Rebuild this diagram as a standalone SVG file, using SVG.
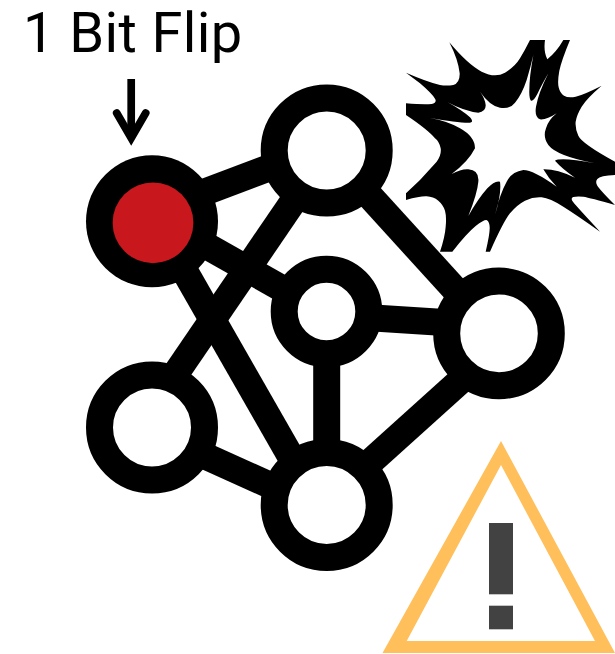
<svg xmlns="http://www.w3.org/2000/svg" width="615" height="654" viewBox="0 0 615 654">
<defs><style>
.edge{stroke:#000;stroke-width:27;fill:none}
.ring{stroke:#000;stroke-width:27;fill:#fff}
text{font-family:"Roboto","Liberation Sans",sans-serif;fill:#000}
</style>
<filter id="soft" x="-5%" y="-5%" width="110%" height="110%"><feGaussianBlur stdDeviation="0.6"/></filter></defs>
<rect width="615" height="654" fill="#fff"/>
<g id="burst" transform="translate(400 30) scale(0.33333)">
<path fill="#000" d="M148 37Q205 105 245 125Q285 145 315 128Q345 110 360 85Q375 60 390 30L435 30Q430 65 442 88Q470 65 490 30L510 30Q485 90 478 122Q472 155 476 172Q480 190 492 197Q505 205 527 200Q550 195 605 167Q560 205 545 230Q530 255 527 275Q525 295 535 317Q545 340 645 395L645 435Q600 437 592 447Q585 455 592 467Q600 480 645 525Q570 503 550 500Q530 498 520 501Q510 505 520 517Q530 530 600 605Q530 555 490 530Q450 505 425 502Q400 500 375 512Q350 525 330 550Q310 575 270 665L257 665Q270 610 269 592Q268 575 261 571Q255 567 227 588Q200 610 157 665L120 665Q135 620 137 590Q140 560 135 542Q130 525 115 512Q100 500 80 499Q60 498 18 510L18 490L60 450L110 395Q125 375 122 355Q118 335 105 325Q85 300 18 255L18 220Q70 224 95 222Q112 218 105 206Q95 190 60 160L18 128Q80 155 120 165Q140 168 160 165Q180 158 179 130Q175 90 148 37Z"/>
<path fill="#fff" d="M240 185Q270 228 300 233Q330 238 345 218Q365 195 380 150Q392 110 400 75Q388 140 388 180Q387 205 393 212Q400 215 412 192Q425 165 445 130Q415 190 408 230Q403 262 420 268Q440 270 470 250Q445 270 438 295Q428 322 445 345Q470 378 585 400Q520 388 490 388Q470 388 465 392Q485 415 525 443Q470 417 430 418Q445 445 470 470Q400 420 370 420Q335 425 320 455Q300 490 285 555Q305 490 300 455Q285 450 262 475Q235 505 205 558Q232 490 235 455Q238 420 205 418Q185 416 155 432Q205 395 225 355Q225 320 180 295Q150 275 88 263Q170 278 205 278Q225 278 210 262Q185 240 143 217Q195 245 235 248Q258 245 257 225Q255 205 240 185Z"/>
</g>
<g id="connectors">
<line class="edge" x1="152" y1="212" x2="327" y2="146"/>
<line class="edge" x1="328" y1="150.500" x2="139" y2="427.500"/>
<line class="edge" x1="327" y1="149" x2="499" y2="338"/>
<line class="edge" x1="152" y1="215" x2="327" y2="314"/>
<line class="edge" x1="152" y1="214" x2="327" y2="520"/>
<line class="edge" x1="327" y1="315" x2="499" y2="326"/>
<line class="edge" x1="326.700" y1="311" x2="326.700" y2="505"/>
<line class="edge" x1="499" y1="346" x2="327" y2="501"/>
<line class="edge" x1="152" y1="432" x2="327" y2="511"/>
</g>
<g id="node-flip"><circle cx="152" cy="221.300" r="66" fill="#000"/><circle cx="153" cy="222.800" r="40.400" fill="#c8171d"/></g>
<g id="node-top"><circle class="ring" cx="326.700" cy="150.500" r="52.500"/></g>
<g id="node-mid"><circle class="ring" cx="326.500" cy="311.500" r="42.300"/></g>
<g id="node-right"><circle class="ring" cx="499" cy="333.400" r="52.300"/></g>
<g id="node-left"><circle class="ring" cx="152" cy="427.500" r="52.500"/></g>
<g id="node-bottom"><circle class="ring" cx="326.700" cy="505" r="52.500"/></g>
<g id="label"><text x="23" y="52.200" font-size="56" letter-spacing="0.400">1 Bit Flip</text></g>
<g id="pointer" fill="none" stroke="#000" stroke-width="7.700">
<line x1="131.200" y1="79" x2="131.200" y2="135"/>
<path stroke-linecap="round" stroke-linejoin="miter" d="M116.700 113L131.200 138L145.700 113"/>
</g>
<g id="warning" filter="url(#soft)">
<path fill="#ffbf5a" fill-rule="evenodd" d="M501 441L615 653L382.500 653ZM501 465L406.700 641L595 641Z"/>
<rect x="489" y="523" width="24" height="71.300" fill="#434343"/>
<rect x="489" y="605.700" width="24" height="23.600" fill="#434343"/>
</g>
</svg>
